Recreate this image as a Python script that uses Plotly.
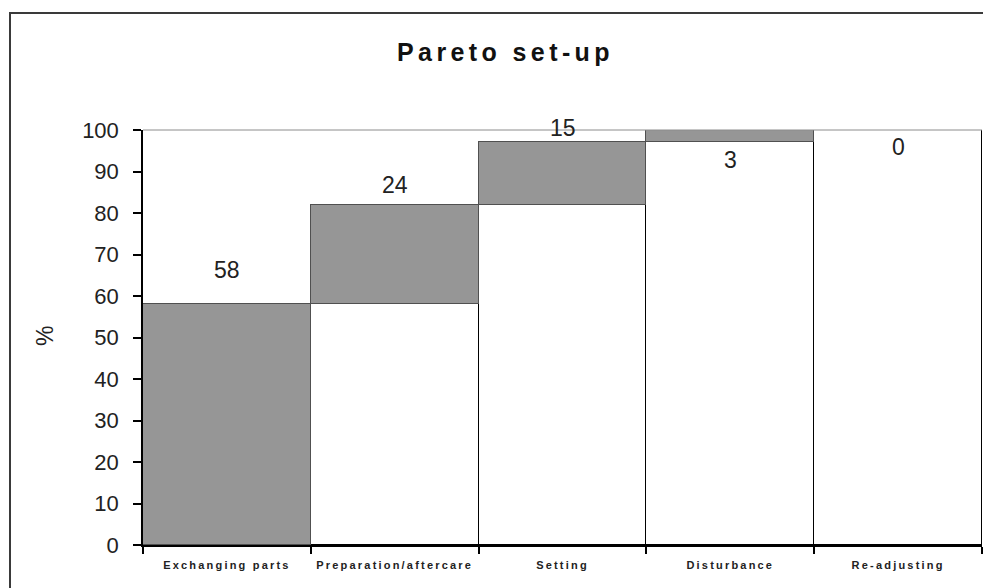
import plotly.graph_objects as go

# Set-up time breakdown (percent of total), in Pareto order
categories = ["Exchanging parts", "Preparation/aftercare", "Setting", "Disturbance", "Re-adjusting"]
shares = [58, 24, 15, 3, 0]
y_ticks = [0, 10, 20, 30, 40, 50, 60, 70, 80, 90, 100]

# cumulative start of every step
bases = []
running = 0
for v in shares:
    bases.append(running)
    running += v

W, H = 983, 588
L, R, T, B = 143, 1, 130, 43
pw, ph = W - L - R, H - T - B

def px_x(px):
    return (px - L) / pw

def px_y(py):
    return (H - B - py) / ph

FONT = "Liberation Sans, Arial, sans-serif"

fig = go.Figure()
fig.add_trace(go.Bar(
    x=categories, y=bases,
    marker=dict(color="white", line=dict(color="black", width=1.5)),
    hoverinfo="skip", showlegend=False,
))
fig.add_trace(go.Bar(
    x=categories, y=shares,
    marker=dict(color="#969696", line=dict(color="#505050", width=1)),
    showlegend=False,
))

# value labels, offset in pixels from the top of each step
label_shift = [34, 20, 14, -30, -17]
for i, (c, b, v) in enumerate(zip(categories, bases, shares)):
    fig.add_annotation(
        x=c, y=b + v, yshift=label_shift[i], text=str(v), showarrow=False,
        yanchor="middle", font=dict(family=FONT, size=23, color="#222"),
    )

# chart title
fig.add_annotation(
    xref="paper", yref="paper", x=px_x(505), y=px_y(52),
    text='<span style="letter-spacing:4.4px">Pareto set-up</span>',
    showarrow=False, xanchor="center", yanchor="middle",
    font=dict(family=FONT, size=25, color="#111", weight="bold"),
)
# y-axis title
fig.add_annotation(
    xref="paper", yref="paper", x=px_x(45), y=px_y(336), text="%",
    textangle=-90, showarrow=False, xanchor="center", yanchor="middle",
    font=dict(family=FONT, size=23, color="#222"),
)

shapes = [
    # plot-area top edge
    dict(type="line", xref="paper", yref="paper", x0=0, x1=1, y0=1, y1=1,
         line=dict(color="#8c8c8c", width=1)),
    # chart-area frame
    dict(type="rect", xref="paper", yref="paper",
         x0=px_x(10), x1=px_x(1000), y0=px_y(13), y1=px_y(620),
         line=dict(color="#3a3a3a", width=2), layer="below"),
]

fig.update_layout(
    width=W, height=H,
    margin=dict(l=L, r=R, t=T, b=B),
    paper_bgcolor="white", plot_bgcolor="white",
    barmode="stack", bargap=0,
    shapes=shapes,
    xaxis=dict(
        type="category", range=[-0.5, 4.5],
        tickmode="array", tickvals=categories,
        ticktext=['<span style="letter-spacing:2.2px">%s</span>' % c for c in categories],
        tickson="boundaries", ticks="outside", ticklen=7, tickwidth=1.5, tickcolor="black",
        showline=True, linecolor="black", linewidth=1.5,
        showgrid=False, zeroline=False, ticklabelstandoff=9,
        tickfont=dict(family=FONT, size=11, color="#222", weight="bold"),
    ),
    yaxis=dict(
        range=[0, 100], tickmode="array", tickvals=y_ticks,
        ticks="outside", ticklen=8, tickwidth=1.5, tickcolor="black",
        showline=True, linecolor="black", linewidth=1.5,
        showgrid=False, zeroline=False, ticklabelstandoff=10,
        tickfont=dict(family=FONT, size=22, color="#222"),
    ),
)

fig.write_html("out.html")
